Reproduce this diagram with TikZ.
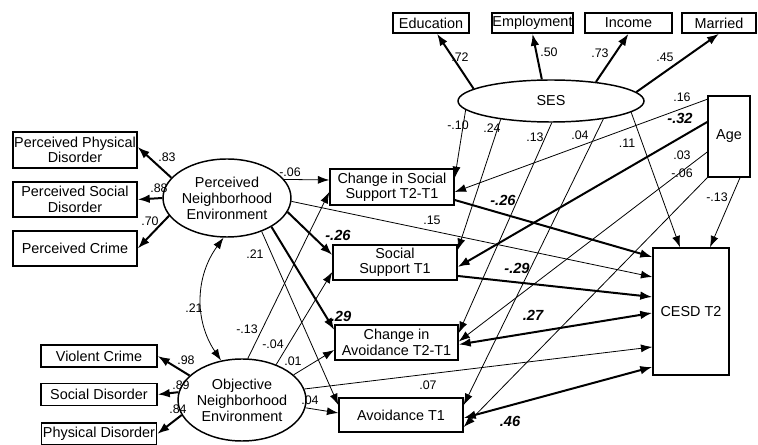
\documentclass[tikz,border=0pt]{standalone}
\usepackage{fontspec}
\setmainfont{Liberation Sans}
\usetikzlibrary{shapes.geometric,arrows.meta}
\tikzset{
	% observed variables (boxes) and latent factors (ellipses)
	obs node/.style={rectangle,draw,line width=1.1pt,inner sep=0,align=center,font=\fontsize{10.8}{11.5}\selectfont},
	lat node/.style={ellipse,draw,line width=1.1pt,inner sep=0,align=center,font=\fontsize{10.8}{12}\selectfont},
	% path coefficients
	coef/.style={inner sep=0,font=\fontsize{9.3}{10}\selectfont},
	big coef/.style={inner sep=0,font=\fontsize{11}{12}\selectfont\bfseries\itshape},
	thin path/.style={line width=0.6pt,-{Latex[length=8.5pt,width=6pt]}},
	thick path/.style={line width=1.5pt,-{Latex[length=9pt,width=6.5pt]}},
	thin both/.style={line width=0.6pt,{Latex[length=8.5pt,width=6pt]}-{Latex[length=8.5pt,width=6pt]}},
	thick both/.style={line width=1.5pt,{Latex[length=9pt,width=6.5pt]}-{Latex[length=9pt,width=6.5pt]}}
}

\begin{document}
\begin{tikzpicture}[x=0.75pt,y=-0.75pt]
\useasboundingbox (0,0) rectangle (758,445);

% SES and its indicators
\node[lat node, minimum width=139.5pt, minimum height=31.5pt] (ses) at (551,101) {SES};
\node[obs node, minimum width=57pt, minimum height=15pt] (edu) at (431,23) {Education};
\node[obs node, minimum width=60.75pt, minimum height=15pt] (emp) at (532.5,23) {Employment};
\node[obs node, minimum width=65.25pt, minimum height=15pt] (inc) at (628.5,23) {Income};
\node[obs node, minimum width=55.5pt, minimum height=15pt] (mar) at (719,23) {Married};
\node[obs node, minimum width=31.5pt, minimum height=60.75pt] (age) at (729,136.5) {Age};

% neighborhood factors
\node[lat node, minimum width=79.5pt, minimum height=58.5pt] (pne) at (227,198) {Perceived\\Neighborhood\\Environment};
\node[obs node, minimum width=93pt, minimum height=27pt] (ppd) at (75,150) {Perceived Physical\\Disorder};
\node[obs node, minimum width=93pt, minimum height=26.25pt] (psd) at (75,199.5) {Perceived Social\\Disorder};
\node[obs node, minimum width=93pt, minimum height=26.25pt] (pc) at (75,248.5) {Perceived Crime};

\node[lat node, minimum width=80pt, minimum height=61.5pt] (one) at (242,400) {Objective\\Neighborhood\\Environment};
\node[obs node, minimum width=87pt, minimum height=16.5pt] (vc) at (99,356) {Violent Crime};
\node[obs node, minimum width=87pt, minimum height=16.5pt] (sd) at (99,394.5) {Social Disorder};
\node[obs node, minimum width=86.25pt, minimum height=16.5pt] (pd) at (99,434) {Physical Disorder};

% mediators and outcome
\node[obs node, minimum width=93pt, minimum height=27pt] (css) at (392,187) {Change in Social\\Support T2-T1};
\node[obs node, minimum width=93pt, minimum height=26.25pt] (sst) at (395,262.5) {Social\\Support T1};
\node[obs node, minimum width=92.25pt, minimum height=26.25pt] (cav) at (396.5,342.5) {Change in\\Avoidance T2-T1};
\node[obs node, minimum width=93pt, minimum height=25.5pt] (avt) at (401,415) {Avoidance T1};
\node[obs node, minimum width=57pt, minimum height=95.25pt] (cesd) at (691,311.5) {CESD T2};

% measurement paths
\draw[thick path] (ses.171) -- ([xshift=4.5pt]edu.south);
\draw[thick path] (ses.113) -- (emp.south);
\draw[thick path] (ses.23) -- (inc.south);
\draw[thick path] (ses.6) -- (mar.south);
\draw[thick path] (pne.160) -- ([yshift=2.25pt]ppd.east);
\draw[thick path] (pne.180) -- (psd.east);
\draw[thick path] (pne.197) -- (pc.east);
\draw[thick path] (one.155) -- (vc.east);
\draw[thick path] (one.173) -- (sd.east);
\draw[thick path] (one.194) -- (pd.east);
\draw[thin both] (pne.265) to[bend right=35] (one.118);

% perceived neighborhood
\draw[thin path] (pne.18) -- ([yshift=5.25pt]css.west);
\draw[thick path] (pne.-13) -- ([yshift=5.6pt]sst.west);
\draw[thick path] (pne.-33) -- ([yshift=9.4pt]cav.west);
\draw[thin path] (pne.-44) -- ([yshift=7.5pt]avt.west);
\draw[thin path] (pne.-3) -- ([yshift=25.9pt]cesd.west);

% objective neighborhood
\draw[thin path] (one.82) -- ([yshift=-3.75pt]css.west);
\draw[thin path] (one.46) -- ([yshift=-7.1pt]sst.west);
\draw[thin path] (one.26) -- ([yshift=-5.6pt]cav.west);
\draw[thin path] (one.-7) -- ([yshift=1.5pt]avt.west);
\draw[thin path] (one.10) -- ([yshift=-26.6pt]cesd.west);

% SES
\draw[thin path] (ses.186) -- ([yshift=6.75pt]css.east);
\draw[thin path] (ses.200) -- ([yshift=9.4pt]sst.east);
\draw[thin path] (ses.272) -- ([yshift=7.1pt]cav.east);
\draw[thin path] (ses.341.5) -- ([yshift=7.5pt]avt.east);
\draw[thin path] (ses.352) -- ([xshift=-8.25pt]cesd.north);

% age
\draw[thin path] ([yshift=-3pt]age.north west) -- ([yshift=-3.75pt]css.east);
\draw[thick path] ([yshift=10.9pt]age.west) -- ([yshift=-3.4pt]sst.east);
\draw[thin path] ([yshift=-11.6pt]age.west) -- ([yshift=0.75pt]cav.east);
\draw[thin path] (age.south west) -- ([yshift=-9pt]avt.east);
\draw[thin path] ([xshift=8.25pt]age.south) -- ([xshift=14.25pt]cesd.north);

% mediators to CESD
\draw[thick path] ([yshift=-9.75pt]css.east) -- ([yshift=40.9pt]cesd.west);
\draw[thick path] ([yshift=-10.1pt]sst.east) -- ([yshift=10.9pt]cesd.west);
\draw[thick both] ([yshift=-1.5pt]cav.east) -- ([yshift=-1.1pt]cesd.west);
\draw[thick both] ([yshift=-2.25pt]avt.east) -- ([yshift=-41.6pt]cesd.west);

% coefficients
\node[coef] (l-edu) at (460,57) {.72};
\node[coef] (l-emp) at (549,52) {.50};
\node[coef] (l-inc) at (600,53) {.73};
\node[coef] (l-mar) at (665,57) {.45};
\node[coef] (l-ppd) at (167,157) {.83};
\node[coef] (l-psd) at (159,188) {.88};
\node[coef] (l-pc) at (150,221) {.70};
\node[coef] (l-vc) at (186,360) {.98};
\node[coef] (l-sd) at (181,385) {.89};
\node[coef] (l-pd) at (178,409) {.84};
\node[coef] (l-cov) at (194,308) {.21};
\node[coef] (l-pcss) at (290,172) {-.06};
\node[big coef] (l-psst) at (338,235) {-.26};
\node[big coef] (l-pcav) at (341,316) {.29};
\node[coef] (l-pavt) at (255,254) {.21};
\node[coef] (l-pcesd) at (432,220) {.15};
\node[coef] (l-ocss) at (247,329) {-.13};
\node[coef] (l-osst) at (273,344) {-.04};
\node[coef] (l-ocav) at (293,361) {.01};
\node[coef] (l-oavt) at (310,400) {.04};
\node[coef] (l-ocesd) at (428,385) {.07};
\node[coef] (l-scss) at (458,125) {-.10};
\node[coef] (l-ssst) at (492,128) {.24};
\node[coef] (l-scav) at (535,137) {.13};
\node[coef] (l-savt) at (580,135) {.04};
\node[coef] (l-scesd) at (627,143) {.11};
\node[coef] (l-acss) at (682,97) {.16};
\node[big coef] (l-asst) at (680,118) {-.32};
\node[coef] (l-acav) at (682,155) {.03};
\node[coef] (l-aavt) at (682,173) {-.06};
\node[coef] (l-acesd) at (717,197) {-.13};
\node[big coef] (l-csscesd) at (503,200) {-.26};
\node[big coef] (l-sstcesd) at (517,268) {-.29};
\node[big coef] (l-cavcesd) at (533,315) {.27};
\node[big coef] (l-avtcesd) at (510,421) {.46};

\end{tikzpicture}
\end{document}
